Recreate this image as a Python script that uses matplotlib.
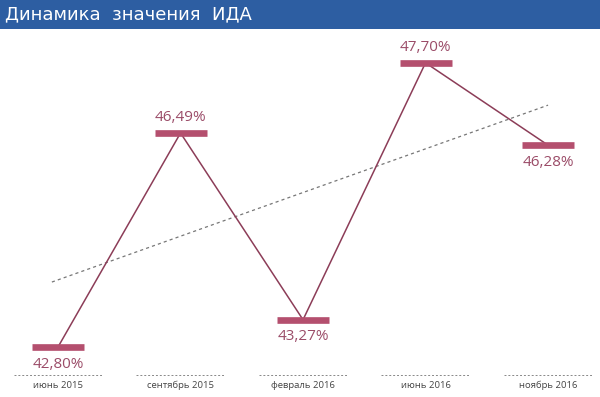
import numpy as np
import matplotlib.pyplot as plt
from matplotlib.patches import Rectangle
import matplotlib.transforms as mtransforms

# values
months = ["июнь 2015", "сентябрь 2015", "февраль 2016", "июнь 2016", "ноябрь 2016"]
ida = [42.80, 46.49, 43.27, 47.70, 46.28]
label_above = [False, True, False, True, False]
trend_ends = [43.92, 46.97]  # dotted trend line, read at its two ends

line_col = "#8c3d58"
mark_col = "#b44f6e"
text_col = "#9b4c68"

fig = plt.figure(figsize=(6, 3.97), dpi=100)
ax = fig.add_axes([0, 0, 1, 1])
ax.set_xlim(-0.4735, 4.424)
ax.set_ylim(41.938, 48.783)
ax.axis("off")

x = np.arange(len(ida))
ax.plot(x, ida, color=line_col, lw=1.1, zorder=2)
ax.plot(x, ida, ls="none", marker="_", ms=38, mew=4.8, color=mark_col, zorder=3)

# trend line
ax.plot([-0.05, 4.0], trend_ends, ls=(0, (2.5, 2.5)), color="#777777", lw=0.9, zorder=1)

for xi, v, up in zip(x, ida, label_above):
    txt = f"{v:.2f}%".replace(".", ",")
    if up:
        ax.annotate(txt, (xi, v), xytext=(0, 5.5), textcoords="offset points",
                    ha="center", va="bottom", fontsize=11, color=text_col, family="Open Sans")
    else:
        ax.annotate(txt, (xi, v), xytext=(0, -7), textcoords="offset points",
                    ha="center", va="top", fontsize=11, color=text_col, family="Open Sans")

# category labels with dotted rules above them
trans = mtransforms.blended_transform_factory(ax.transData, ax.transAxes)
for xi, m in zip(x, months):
    ax.plot([xi - 0.36, xi + 0.36], [0.055, 0.055], transform=trans,
            ls=(0, (2, 2)), color="#888888", lw=0.7, clip_on=False)
    ax.text(xi, 0.030, m, transform=trans, ha="center", va="center",
            fontsize=6.8, color="#444444", family="Open Sans")

# title bar
fig.patches.append(Rectangle((0, 1 - 29 / 397), 1, 29 / 397, transform=fig.transFigure,
                             facecolor="#2d5ea2", edgecolor="none", zorder=0))
fig.text(5 / 600, 1 - 14 / 397, "Динамика  значения  ИДА", color="white",
         fontsize=13, ha="left", va="center", family="DejaVu Sans")

fig.savefig("out.png", dpi=100)
